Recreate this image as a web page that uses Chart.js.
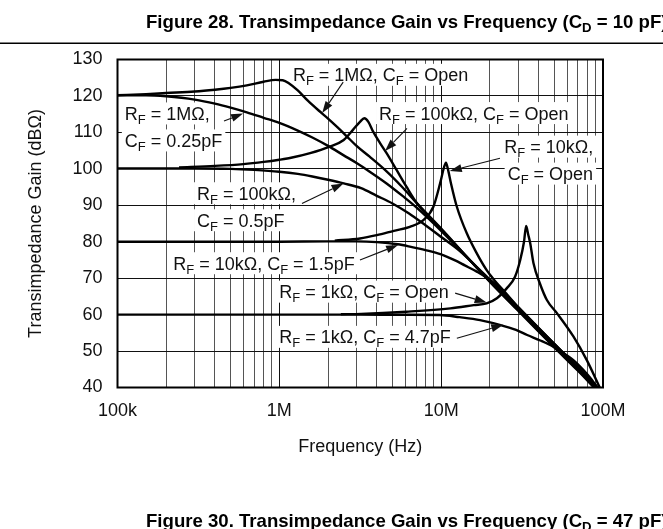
<!DOCTYPE html>
<html>
<head>
<meta charset="utf-8">
<title>Transimpedance Gain vs Frequency (CD = 10 pF)</title>
<script src="https://cdn.jsdelivr.net/npm/chart.js@4.4.1/dist/chart.umd.min.js"></script>
<style>
  html, body { margin: 0; padding: 0; background: #fff; }
  #wrap { width: 663px; height: 529px; }
</style>
</head>
<body>
<div id="wrap"><canvas id="gain-chart" width="663" height="529"></canvas></div>
<script>
// axis ticks
const xTickValues = [1e5, 1e6, 1e7, 1e8];
const xTickLabels = ['100k', '1M', '10M', '100M'];
const yMin = 40, yMax = 130, yStep = 10;

// RF = 1MOhm, CF = Open
const rf1MOpenFreq = [1e5, 1.5e5, 2e5, 3e5, 4e5, 5e5, 6.3e5, 8e5, 9.5e5, 1.05e6, 1.15e6, 1.3e6, 1.5e6, 1.75e6, 2e6, 2.3e6, 2.6e6, 3e6, 3.6e6, 4.6e6, 5.8e6, 7e6, 1e7, 1.5e7, 2e7, 3e7, 5e7, 7e7, 8.8e7];
const rf1MOpenGain = [120.2, 120.5, 120.8, 121.2, 121.7, 122.2, 122.9, 123.9, 124.4, 124.3, 123.4, 121.5, 118.7, 116.0, 113.8, 111.3, 109.0, 106.3, 103.4, 99.3, 94.8, 90.8, 83.6, 75.0, 69.0, 61.0, 51.0, 44.6, 40];

// RF = 1MOhm, CF = 0.25pF
const rf1M025Freq = [1e5, 1.5e5, 2e5, 3e5, 4e5, 5e5, 6.3e5, 8e5, 1e6, 1.3e6, 1.6e6, 2e6, 2.5e6, 3e6, 3.6e6, 4.6e6, 5.8e6, 7e6, 1e7, 1.5e7, 2e7, 3e7, 5e7, 7e7, 9e7];
const rf1M025Gain = [120.2, 120.2, 119.9, 119.0, 117.9, 116.8, 115.5, 114.0, 112.6, 110.5, 108.6, 106.3, 103.7, 101.6, 99.3, 96.0, 92.5, 89.5, 83.0, 75.0, 69.2, 61.3, 51.4, 45.0, 40];

// RF = 100kOhm, CF = Open
const rf100kOpenFreq = [2.4e5, 4e5, 6e5, 8e5, 1e6, 1.2e6, 1.55e6, 2.05e6, 2.5e6, 2.85e6, 3.15e6, 3.35e6, 3.55e6, 3.8e6, 4.2e6, 4.6e6, 5.3e6, 6.1e6, 7.1e6, 1e7, 1.5e7, 2e7, 3e7, 5e7, 7e7, 8.9e7];
const rf100kOpenGain = [100.4, 100.8, 101.3, 101.9, 102.5, 103.1, 104.3, 106.1, 107.9, 110.7, 112.9, 113.9, 112.9, 110.2, 107.0, 104.3, 99.7, 95.1, 90.5, 83.4, 75.0, 69.1, 61.2, 51.2, 44.8, 40];

// RF = 100kOhm, CF = 0.5pF
const rf100k05Freq = [1e5, 3e5, 5e5, 7e5, 1e6, 1.3e6, 1.6e6, 2e6, 2.5e6, 3.2e6, 4e6, 5e6, 6.3e6, 8e6, 1e7, 1.3e7, 1.7e7, 2e7, 3e7, 5e7, 7e7, 9.1e7];
const rf100k05Gain = [100.1, 100.1, 100.0, 99.7, 99.2, 98.6, 97.9, 97.0, 96.0, 94.7, 92.6, 90.5, 87.8, 84.5, 81.3, 77.5, 72.6, 69.6, 61.6, 51.6, 45.2, 40];

// RF = 10kOhm, CF = Open
const rf10kOpenFreq = [2.2e6, 3.15e6, 4e6, 5.1e6, 6.4e6, 7.8e6, 8.95e6, 9.85e6, 1.04e7, 1.07e7, 1.1e7, 1.15e7, 1.25e7, 1.44e7, 1.66e7, 1.91e7, 2.1e7, 2.5e7, 3e7, 5e7, 7e7, 9.2e7];
const rf10kOpenGain = [80.3, 80.9, 81.8, 83.0, 84.1, 86.0, 89.6, 96.0, 100.3, 101.7, 100.0, 96.0, 89.6, 82.3, 76.8, 72.2, 69.8, 66.0, 62.0, 52.0, 45.5, 40];

// RF = 10kOhm, CF = 1.5pF
const rf10k15Freq = [1e5, 1e6, 2e6, 3e6, 4e6, 5.4e6, 6.5e6, 8e6, 1e7, 1.2e7, 1.4e7, 1.66e7, 2.1e7, 3e7, 5e7, 7e7, 9.3e7];
const rf10k15Gain = [80.0, 80.0, 80.1, 80.1, 79.9, 79.3, 78.6, 77.7, 76.5, 75.0, 73.5, 71.8, 68.8, 62.0, 52.0, 45.6, 40];

// RF = 1kOhm, CF = Open
const rf1kOpenFreq = [2.4e6, 3.2e6, 6.1e6, 1.14e7, 1.59e7, 1.91e7, 2.21e7, 2.54e7, 2.86e7, 3.08e7, 3.25e7, 3.35e7, 3.45e7, 3.55e7, 3.72e7, 4.07e7, 4.5e7, 5.19e7, 6.56e7, 7.94e7, 9.55e7];
const rf1kOpenGain = [60.1, 60.2, 60.8, 61.7, 62.6, 63.1, 64.5, 67.2, 70.4, 75.0, 80.0, 84.3, 82.0, 79.6, 74.1, 68.6, 64.0, 60.4, 54.0, 47.5, 40];

// RF = 1kOhm, CF = 4.7pF
const rf1k47Freq = [1e5, 1e6, 3e6, 6e6, 9.8e6, 1.3e7, 1.74e7, 2.3e7, 2.9e7, 3.4e7, 4.1e7, 4.93e7, 5.8e7, 6.56e7, 7.5e7, 8.5e7, 9.2e7];
const rf1k47Gain = [60.0, 60.0, 60.0, 59.95, 59.9, 59.3, 58.5, 57.2, 55.8, 54.4, 52.9, 51.2, 49.2, 47.5, 45.0, 42.2, 40];

const curves = [
  ['RF = 1MΩ, CF = Open', rf1MOpenFreq, rf1MOpenGain],
  ['RF = 1MΩ, CF = 0.25pF', rf1M025Freq, rf1M025Gain],
  ['RF = 100kΩ, CF = Open', rf100kOpenFreq, rf100kOpenGain],
  ['RF = 100kΩ, CF = 0.5pF', rf100k05Freq, rf100k05Gain],
  ['RF = 10kΩ, CF = Open', rf10kOpenFreq, rf10kOpenGain],
  ['RF = 10kΩ, CF = 1.5pF', rf10k15Freq, rf10k15Gain],
  ['RF = 1kΩ, CF = Open', rf1kOpenFreq, rf1kOpenGain],
  ['RF = 1kΩ, CF = 4.7pF', rf1k47Freq, rf1k47Gain]
];

// callout labels, anchored in data units (Hz, dBΩ); "_X" = subscript X
const notes = [
  { text: ['R_F = 1MΩ, C_F = Open'], at: [1.213e6, 125.8], align: 'left', tail: [2.48e6, 123.8], tip: [1.84e6, 115.3] },
  { text: ['R_F = 100kΩ, C_F = Open'], at: [4.13e6, 115.3], align: 'left', tail: [6.15e6, 111.1], tip: [4.5e6, 104.9] },
  { text: ['R_F = 10kΩ,', 'C_F = Open'], at: [8.69e7, 106.1], align: 'right', tail: [2.31e7, 102.9], tip: [1.13e7, 99.4] },
  { text: ['R_F = 1MΩ,', 'C_F = 0.25pF'], at: [1.11e5, 115.2], align: 'left', tail: [4.55e5, 113.1], tip: [5.97e5, 115.2] },
  { text: ['R_F = 100kΩ,', 'C_F = 0.5pF'], at: [3.1e5, 93.3], align: 'left', tail: [1.38e6, 90.5], tip: [2.49e6, 96.0] },
  { text: ['R_F = 10kΩ, C_F = 1.5pF'], at: [2.21e5, 74.1], align: 'left', tail: [3.15e6, 75.0], tip: [5.42e6, 79.1] },
  { text: ['R_F = 1kΩ, C_F = Open'], at: [1e6, 66.3], align: 'left', tail: [1.22e7, 65.9], tip: [1.91e7, 63.3] },
  { text: ['R_F = 1kΩ, C_F = 4.7pF'], at: [1e6, 53.9], align: 'left', tail: [1.25e7, 53.5], tip: [2.42e7, 57.2] }
];

const topTitle = 'Figure 28. Transimpedance Gain vs Frequency (C_D = 10 pF)';
const nextTitle = 'Figure 30. Transimpedance Gain vs Frequency (C_D = 47 pF)';

const FAMILY = '"Liberation Sans", Arial, Helvetica, sans-serif';
const noteFont = '18px ' + FAMILY;
const noteSub = '13px ' + FAMILY;
const titleFont = 'bold 18.6px ' + FAMILY;
const titleSub = 'bold 13.2px ' + FAMILY;

// split "R_F = 1M" into [text, isSub] parts
function richParts(str) {
  const parts = [];
  str.split(/_(.)/).forEach((s, i) => { if (s) parts.push([s, i % 2 === 1]); });
  return parts;
}

function richWidth(ctx, parts, font, sub) {
  let w = 0;
  parts.forEach(([s, isSub]) => { ctx.font = isSub ? sub : font; w += ctx.measureText(s).width; });
  return w;
}

function drawRich(ctx, parts, x, base, font, sub, drop) {
  parts.forEach(([s, isSub]) => {
    ctx.font = isSub ? sub : font;
    ctx.fillText(s, x, base + (isSub ? drop : 0));
    x += ctx.measureText(s).width;
  });
}

function arrow(ctx, x1, y1, x2, y2) {
  const a = Math.atan2(y2 - y1, x2 - x1), len = 12, half = 4;
  const bx = x2 - len * Math.cos(a), by = y2 - len * Math.sin(a);
  ctx.beginPath();
  ctx.moveTo(x1, y1);
  ctx.lineTo(bx, by);
  ctx.lineWidth = 1.1;
  ctx.stroke();
  ctx.beginPath();
  ctx.moveTo(x2, y2);
  ctx.lineTo(bx + half * Math.sin(a), by - half * Math.cos(a));
  ctx.lineTo(bx - half * Math.sin(a), by + half * Math.cos(a));
  ctx.closePath();
  ctx.fill();
}

function noteLines(chart, note) {
  const ctx = chart.ctx, xs = chart.scales.x, ys = chart.scales.y;
  const ax = xs.getPixelForValue(note.at[0]), ay = ys.getPixelForValue(note.at[1]);
  return note.text.map((t, i) => {
    const parts = richParts(t);
    const w = richWidth(ctx, parts, noteFont, noteSub);
    return { parts, w, x: note.align === 'right' ? ax - w : ax, cy: ay + i * 27 };
  });
}

const calloutPlugin = {
  id: 'callouts',
  beforeDatasetsDraw(chart) {
    const ctx = chart.ctx;
    ctx.save();
    ctx.fillStyle = '#fff';
    notes.forEach(n => noteLines(chart, n).forEach(l => ctx.fillRect(l.x - 3, l.cy - 11, l.w + 6, 22)));
    ctx.restore();
  },
  afterDatasetsDraw(chart) {
    const ctx = chart.ctx, xs = chart.scales.x, ys = chart.scales.y;
    ctx.save();
    ctx.fillStyle = '#111';
    ctx.strokeStyle = '#111';
    ctx.textAlign = 'left';
    ctx.textBaseline = 'alphabetic';
    notes.forEach(n => {
      noteLines(chart, n).forEach(l => drawRich(ctx, l.parts, l.x, l.cy + 6.5, noteFont, noteSub, 4));
      arrow(ctx, xs.getPixelForValue(n.tail[0]), ys.getPixelForValue(n.tail[1]),
        xs.getPixelForValue(n.tip[0]), ys.getPixelForValue(n.tip[1]));
    });
    ctx.restore();
  },
  afterDraw(chart) {
    const ctx = chart.ctx, a = chart.chartArea;
    ctx.save();
    ctx.strokeStyle = '#000';
    ctx.lineWidth = 2;
    ctx.strokeRect(a.left, a.top, a.right - a.left, a.bottom - a.top);
    // figure captions and rule
    ctx.fillStyle = '#000';
    ctx.textAlign = 'left';
    ctx.textBaseline = 'alphabetic';
    drawRich(ctx, richParts(topTitle), 146, 28, titleFont, titleSub, 4);
    ctx.fillRect(0, 42.5, chart.width, 1.5);
    drawRich(ctx, richParts(nextTitle), 146, 527, titleFont, titleSub, 4);
    ctx.restore();
  }
};

Chart.defaults.font.family = FAMILY;
Chart.defaults.font.size = 18;
Chart.defaults.color = '#111';

new Chart(document.getElementById('gain-chart'), {
  type: 'line',
  data: {
    datasets: curves.map(([label, f, g]) => ({
      label,
      data: f.map((v, i) => ({ x: v, y: g[i] })),
      borderColor: '#000',
      borderWidth: 2.4,
      pointRadius: 0,
      fill: false,
      cubicInterpolationMode: 'monotone'
    }))
  },
  options: {
    responsive: false,
    animation: false,
    layout: { padding: { top: 59.5, right: 60, bottom: 0, left: 0 } },
    plugins: { legend: { display: false }, tooltip: { enabled: false } },
    scales: {
      x: {
        type: 'logarithmic',
        min: xTickValues[0],
        max: xTickValues[xTickValues.length - 1],
        afterBuildTicks(scale) {
          const ticks = [];
          xTickValues.slice(0, -1).forEach(d => { for (let k = 1; k < 10; k++) ticks.push({ value: k * d }); });
          ticks.push({ value: xTickValues[xTickValues.length - 1] });
          scale.ticks = ticks;
        },
        afterFit(scale) { scale.height = 141.5; },
        ticks: {
          autoSkip: false,
          maxRotation: 0,
          padding: 13,
          callback: v => { const i = xTickValues.indexOf(v); return i < 0 ? '' : xTickLabels[i]; }
        },
        grid: {
          drawTicks: false,
          color: c => xTickValues.includes(c.tick.value) ? '#111' : '#555',
          lineWidth: 1
        },
        border: { display: false },
        title: { display: true, text: 'Frequency (Hz)', padding: { top: 0, bottom: 71 } }
      },
      y: {
        min: yMin,
        max: yMax,
        afterFit(scale) { scale.width = 117.5; },
        ticks: { stepSize: yStep, padding: 15 },
        grid: { drawTicks: false, color: '#111', lineWidth: 1 },
        border: { display: false },
        title: { display: true, text: 'Transimpedance Gain (dBΩ)', padding: { top: 25, bottom: 0 } }
      }
    }
  },
  plugins: [calloutPlugin]
});
</script>
</body>
</html>
